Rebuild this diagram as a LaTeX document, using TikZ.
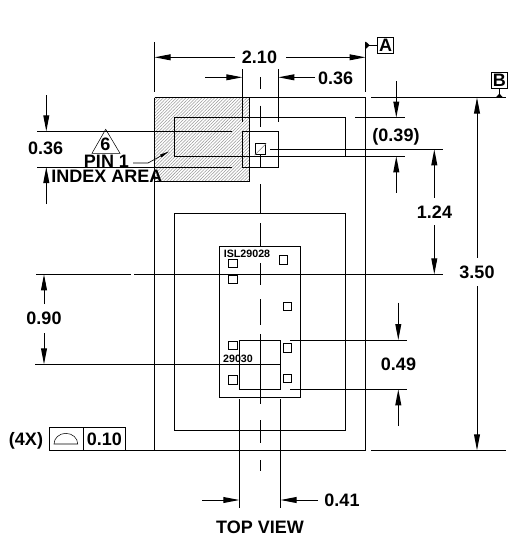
\documentclass[tikz,border=0pt]{standalone}
\usepackage{fontspec}
\setmainfont{Liberation Sans}
\usetikzlibrary{arrows.meta,patterns.meta}

\begin{document}
\begin{tikzpicture}[x=0.75pt,y=-0.75pt,line width=0.75pt]
  \tikzstyle{dim}=[-{Triangle[length=12pt,width=4.4pt]}]
  \tikzstyle{dimtext}=[inner sep=0pt,font=\fontsize{13.5}{15}\selectfont\bfseries]
  \tikzstyle{chipmark}=[inner sep=0pt,font=\fontsize{8}{9}\selectfont\bfseries]
  \tikzstyle{datum}=[draw,inner sep=0pt,minimum width=12.2pt,minimum height=12pt,font=\fontsize{13.5}{15}\selectfont\bfseries]
  \tikzstyle{fcfbox}=[draw,inner sep=0pt,minimum height=17.4pt,font=\fontsize{13.5}{15}\selectfont\bfseries]
  \tikzstyle{pad}=[draw,inner sep=0pt,minimum width=6.6pt,minimum height=6.2pt]
  \useasboundingbox (0,0) rectangle (509,537);

  % hatched corner
  \path[pattern={Lines[angle=45,distance=1.7pt,line width=0.4pt]},pattern color=gray!80] (154.5,97.5) rectangle (249.5,181);
  \draw (249.5,97.5) -- (249.5,181) -- (154.5,181);

  % outlines
  \draw (154.5,42) -- (154.5,91.7);
  \draw (365.7,42) -- (365.7,91.7);
  \draw (154.5,97.5) -- (154.5,451);
  \draw (365.7,97.5) -- (365.7,450.5);
  \draw (154.5,97.5) -- (366,97.5);
  \draw (371,97.5) -- (506,97.5);
  \draw (49.5,450.5) -- (366,450.5);
  \draw (371,450.5) -- (506,450.5);
  \draw (174.5,117.5) rectangle (345.5,156.3);
  \draw (242.3,131.3) rectangle (278.5,167);
  \draw (174.5,213.3) rectangle (345.5,430.3);
  \draw (219.3,246.3) rectangle (300.3,397.3);
  \draw (239.3,340) rectangle (280.7,389.3);

  % center line
  \draw (260.4,77) -- (260.4,88.5);
  \draw (260.4,105.5) -- (260.4,127);
  \draw (260.4,154.7) -- (260.4,167);
  \draw (260.4,184) -- (260.4,213.3);
  \draw (260.4,223.3) -- (260.4,246.3);
  \draw (260.4,263) -- (260.4,285);
  \draw (260.4,299) -- (260.4,325);
  \draw (260.4,334) -- (260.4,403.5);
  \draw (260.4,420) -- (260.4,442.7);
  \draw (260.4,460) -- (260.4,470.7);

  % witness lines
  \draw (242.3,69.3) -- (242.3,121.7);
  \draw (278.3,69.3) -- (278.3,121.7);
  \draw (37,131.3) -- (231.6,131.3);
  \draw (37,167) -- (231.6,167);
  \draw (270,149.3) -- (443,149.3);
  \draw (355,117.5) -- (405,117.5);
  \draw (345.5,156.3) -- (405,156.3);
  \draw (36,274.3) -- (130.5,274.3);
  \draw (134,274.3) -- (442.7,274.3);
  \draw (35,364.3) -- (280.7,364.3);
  \draw (290,340) -- (406.7,340);
  \draw (290,389.3) -- (406.7,389.3);
  \draw (239.3,399) -- (239.3,508);
  \draw (280.5,399) -- (280.5,508);

  % pads
  \node[pad,minimum width=7pt] (P_1) at (233,263.5) {};
  \node[pad] (P_2) at (283.5,260) {};
  \node[pad,minimum width=7pt] (P_3) at (233,279.8) {};
  \node[pad] (P_4) at (287.5,306.5) {};
  \node[pad,minimum width=7pt] (P_5) at (233,345.5) {};
  \node[pad] (P_6) at (287.5,348) {};
  \node[pad,minimum width=7pt] (P_7) at (233,380) {};
  \node[pad] (P_8) at (287.5,378.3) {};
  \node[draw,inner sep=0pt,minimum width=8pt,minimum height=8pt] (P_pin) at (260.4,149.3) {};
  \draw[gray,line width=0.4pt] (P_pin.south west) -- (P_pin.north east);

  % dimensions
  \coordinate (a_1) at (235,57.3);
  \coordinate (a_2) at (154.5,57.3);
  \coordinate (b_1) at (286,57.3);
  \coordinate (b_2) at (365.5,57.3);
  \draw[dim] (a_1) -- (a_2);
  \draw[dim] (b_1) -- (b_2);
  \coordinate (c_1) at (205,77.3);
  \coordinate (c_2) at (242.3,77.3);
  \coordinate (d_1) at (315,77.3);
  \coordinate (d_2) at (278.3,77.3);
  \draw[dim] (c_1) -- (c_2);
  \draw[dim] (d_1) -- (d_2);
  \coordinate (e_1) at (46.3,95);
  \coordinate (e_2) at (46.3,131.3);
  \coordinate (f_1) at (46.3,204);
  \coordinate (f_2) at (46.3,167);
  \draw[dim] (e_1) -- (e_2);
  \draw[dim] (f_1) -- (f_2);
  \coordinate (g_1) at (396.3,81);
  \coordinate (g_2) at (396.3,117.5);
  \coordinate (h_1) at (396.3,192.7);
  \coordinate (h_2) at (396.3,156.3);
  \draw[dim] (g_1) -- (g_2);
  \draw[dim] (h_1) -- (h_2);
  \coordinate (i_1) at (434.3,197.5);
  \coordinate (i_2) at (434.3,149.3);
  \coordinate (j_1) at (434.3,225);
  \coordinate (j_2) at (434.3,274.3);
  \draw[dim] (i_1) -- (i_2);
  \draw[dim] (j_1) -- (j_2);
  \coordinate (k_1) at (477,257.7);
  \coordinate (k_2) at (477,97.5);
  \coordinate (l_1) at (477,286);
  \coordinate (l_2) at (477,450.3);
  \draw[dim] (k_1) -- (k_2);
  \draw[dim] (l_1) -- (l_2);
  \coordinate (m_1) at (44,304);
  \coordinate (m_2) at (44,274.3);
  \coordinate (n_1) at (44,333);
  \coordinate (n_2) at (44,364.3);
  \draw[dim] (m_1) -- (m_2);
  \draw[dim] (n_1) -- (n_2);
  \coordinate (o_1) at (398.3,302.7);
  \coordinate (o_2) at (398.3,340);
  \coordinate (q_1) at (398.3,426);
  \coordinate (q_2) at (398.3,389.3);
  \draw[dim] (o_1) -- (o_2);
  \draw[dim] (q_1) -- (q_2);
  \coordinate (r_1) at (202,500);
  \coordinate (r_2) at (239.3,500);
  \coordinate (s_1) at (318,500);
  \coordinate (s_2) at (280.5,500);
  \draw[dim] (r_1) -- (r_2);
  \draw[dim] (s_1) -- (s_2);

  % labels
  \node[dimtext] (L_210) at (259.5,57) {2.10};
  \node[dimtext] (L_036t) at (335.7,78.5) {0.36};
  \node[dimtext] (L_036l) at (45.7,148.7) {0.36};
  \node[dimtext] (L_039) at (396,136.5) {(0.39)};
  \node[dimtext] (L_124) at (434.5,212.5) {1.24};
  \node[dimtext] (L_350) at (477,272) {3.50};
  \node[dimtext] (L_090) at (44,318.5) {0.90};
  \node[dimtext] (L_049) at (398.5,364) {0.49};
  \node[dimtext] (L_041) at (342,500) {0.41};
  \node[dimtext] (L_4x) at (26,440.5) {(4X)};
  \node[dimtext] (L_top) at (260,527.7) {TOP VIEW};
  \node[dimtext] (L_pin) at (106.5,161.5) {PIN 1};
  \node[dimtext] (L_idx) at (107,176.7) {INDEX AREA};
  \node[dimtext] (L_six) at (105.3,144) {6};
  \node[chipmark] (L_isl) at (247,253.7) {ISL29028};
  \node[chipmark] (L_290) at (238,358.5) {29030};

  % callouts
  \draw[line width=0.4pt] (105.7,129.3) -- (120,153.3) -- (92,153.3) -- cycle;
  \coordinate (t_1) at (133,163);
  \coordinate (t_2) at (148,163);
  \coordinate (t_3) at (169,151.5);
  \draw[line width=0.5pt,-{Triangle[length=7pt,width=2.2pt]}] (t_1) -- (t_2) -- (t_3);
  \node[datum] (A) at (385.5,45.3) {A};
  \node[datum] (B) at (499.4,80.2) {B};
  \coordinate (u_1) at (366,45.3);
  \coordinate (u_2) at (499.4,97.5);
  \draw (u_1) -- (A);
  \draw (B) -- (u_2);
  \fill (365.7,41.5) -- (369.7,45.3) -- (365.7,49) -- cycle;
  \fill (495.8,97.5) -- (499.4,93.5) -- (503,97.5) -- cycle;
  \node[fcfbox,minimum width=25.4pt] (F_1) at (66.4,439) {};
  \node[fcfbox,minimum width=31.6pt] (F_2) at (104.4,439) {0.10};
  \draw[line width=0.4pt] (54,444) arc[start angle=180,end angle=0,x radius=8.9pt,y radius=8pt] -- cycle;
\end{tikzpicture}
\end{document}
